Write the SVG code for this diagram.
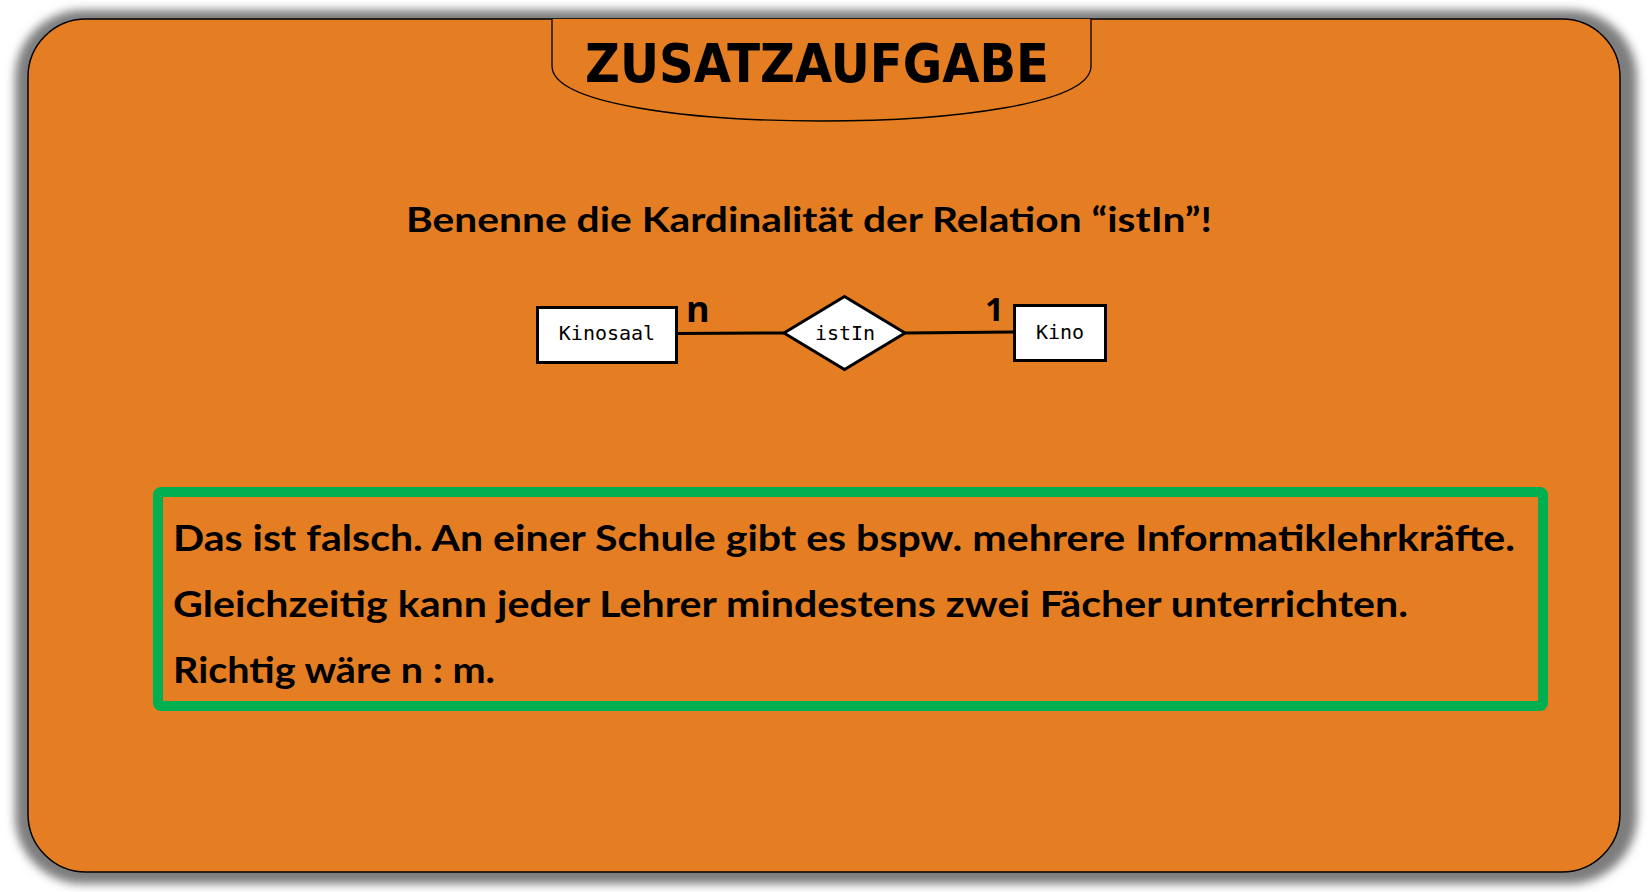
<svg xmlns="http://www.w3.org/2000/svg" width="1648" height="892" viewBox="0 0 1648 892">
  <defs>
    <filter id="blur" x="-5%" y="-5%" width="110%" height="110%">
      <feGaussianBlur stdDeviation="5"/>
    </filter>
  </defs>
  <style>
    .mono { font-family: "DejaVu Sans Mono", "Liberation Mono", monospace; font-size: 20px; fill: #000; }
    .ent { fill: #fff; stroke: #000; stroke-width: 3; }
    .body { font-family: Lato, "Open Sans", sans-serif; font-weight: bold; font-size: 36px; fill: #000; }
    .card { font-family: "Open Sans", "Liberation Sans", sans-serif; font-weight: bold; fill: #000; }
  </style>
  <rect width="1648" height="892" fill="#ffffff"/>
  <g id="card">
    <rect x="15" y="10" width="1622" height="874" rx="68" ry="68" fill="#7d7d7d" filter="url(#blur)"/>
    <rect x="28" y="19" width="1592" height="853" rx="58" ry="58" fill="#E57E22" stroke="#000" stroke-width="1.5"/>
  </g>
  <g id="title-tab">
    <path d="M552,19 L552,66 C552,104 690,121 821,121 C952,121 1091,104 1091,66 L1091,19" fill="#E57E22" stroke="#000" stroke-width="1.3"/>
    <text x="585" y="82" font-family="DejaVu Sans, Liberation Sans, sans-serif" font-weight="bold" font-size="53" textLength="464" lengthAdjust="spacingAndGlyphs">ZUSATZAUFGABE</text>
  </g>
  <g id="question">
    <text x="406" y="232" font-family="Lato, 'Open Sans', sans-serif" font-weight="bold" font-size="34" textLength="806" lengthAdjust="spacingAndGlyphs">Benenne die Kardinalität der Relation “istIn”!</text>
  </g>
  <g id="connectors">
    <line x1="677" y1="333.5" x2="784" y2="333" stroke="#000" stroke-width="3"/>
    <line x1="905" y1="333" x2="1014" y2="332" stroke="#000" stroke-width="3"/>
    <text class="card" x="686" y="322" font-size="36">n</text>
    <text class="card" x="985" y="321" font-size="33">1</text>
  </g>
  <g id="node-kinosaal">
    <rect class="ent" x="537.5" y="307.5" width="139" height="55"/>
    <text class="mono" x="607" y="340" text-anchor="middle">Kinosaal</text>
  </g>
  <g id="node-istIn">
    <polygon class="ent" points="844.5,296.5 905,333 844.5,369.5 784,333"/>
    <text class="mono" x="845" y="340" text-anchor="middle">istIn</text>
  </g>
  <g id="node-kino">
    <rect class="ent" x="1014.5" y="305.5" width="91" height="55"/>
    <text class="mono" x="1060" y="339" text-anchor="middle">Kino</text>
  </g>
  <g id="answer">
    <rect x="158" y="492" width="1385" height="214" rx="3" ry="3" fill="none" stroke="#00B050" stroke-width="10"/>
    <text class="body" x="173" y="551" textLength="1342" lengthAdjust="spacingAndGlyphs">Das ist falsch. An einer Schule gibt es bspw. mehrere Informatiklehrkräfte.</text>
    <text class="body" x="173" y="617" textLength="1235" lengthAdjust="spacingAndGlyphs">Gleichzeitig kann jeder Lehrer mindestens zwei Fächer unterrichten.</text>
    <text class="body" x="173" y="683" textLength="322" lengthAdjust="spacingAndGlyphs">Richtig wäre n : m.</text>
  </g>
</svg>
